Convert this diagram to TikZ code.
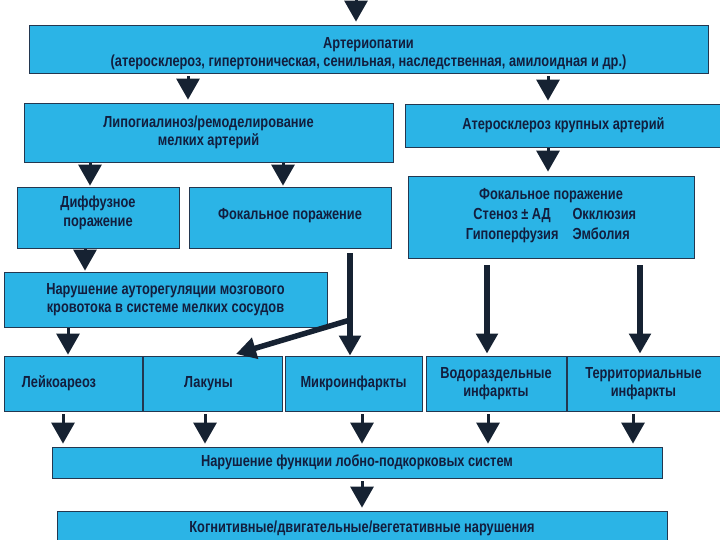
\documentclass[tikz,border=0pt]{standalone}
\usepackage{fontspec}
\setmainfont[FakeStretch=0.8]{Liberation Sans}
\usetikzlibrary{positioning,arrows.meta}
\definecolor{boxblue}{RGB}{43,180,230}
\definecolor{boxline}{RGB}{35,55,80}
\definecolor{ink}{RGB}{18,30,62}
\definecolor{arrowink}{RGB}{22,34,50}

\tikzset{
  blk/.style={draw=boxline, line width=0.8pt, fill=boxblue, text=ink, align=center,
    inner sep=2pt, font=\bfseries\fontsize{16}{18.5}\selectfont},
  tri/.style={draw=arrowink, line width=3pt, -{Triangle[length=21pt,width=23pt]},
    shorten <=3pt, shorten >=3pt},
  longarr/.style={draw=arrowink, line width=5.5pt, -{Triangle[length=20pt,width=21pt]}},
}

\begin{document}
\begin{tikzpicture}[x=1pt,y=-1pt]
  \useasboundingbox[fill=white] (0,0) rectangle (720,540);

  % top level
  \node[blk, minimum width=679pt, minimum height=48pt] (artp) at (368.5,49)
    {\rule{0pt}{20pt}Артериопатии\\(атеросклероз, гипертоническая, сенильная, наследственная, амилоидная и др.)};
  \node[blk, minimum width=369pt, minimum height=59pt] (lipo) at (208.5,132.5)
    {Липогиалиноз/ремоделирование\\мелких артерий};
  \node[blk, minimum width=317pt, minimum height=43pt] (ather) at (563.5,125.5)
    {Атеросклероз крупных артерий};
  \node[blk, minimum width=286pt, minimum height=82pt] (bigfoc) at (551,217)
    {Фокальное поражение\\[2pt]
     \begin{tabular}{@{}c@{\hspace{14pt}}l@{}}
       Стеноз ± АД & Окклюзия\\[2pt]
       Гипоперфузия & Эмболия
     \end{tabular}};

  % small vessels
  \node[blk, minimum width=162pt, minimum height=61pt] (diff) at (98,217.5)
    {Диффузное\\поражение\\[-6pt]\mbox{}};
  \node[blk, minimum width=202pt, minimum height=61pt] (foc) at (290,217.5)
    {Фокальное поражение\\[-12pt]\mbox{}};
  \node[blk, minimum width=323pt, minimum height=55pt] (autoreg) at (165.5,299.5)
    {Нарушение ауторегуляции мозгового\\кровотока в системе мелких сосудов};

  % lesions row
  \node[blk, minimum width=138pt, minimum height=55pt] (leuk) at (73,383.5)
    {Лейкоареоз\hspace*{28pt}};
  \node[blk, minimum width=139pt, minimum height=55pt] (lac) at (212.5,383.5)
    {Лакуны\hspace*{8pt}};
  \node[blk, minimum width=137pt, minimum height=55pt] (micro) at (353.5,383.5) {Микроинфаркты};
  \node[blk, minimum width=140pt, minimum height=55pt] (wshed) at (496,383.5)
    {Водораздельные\\инфаркты};
  \node[blk, minimum width=153pt, minimum height=55pt] (terr) at (643.5,383.5)
    {Территориальные\\инфаркты};

  % bottom
  \node[blk, minimum width=610pt, minimum height=31pt] (front) at (357,462.5)
    {Нарушение функции лобно-подкорковых систем};
  \node[blk, minimum width=610pt, minimum height=35pt] (cogn) at (362,528.5)
    {Когнитивные/двигательные/вегетативные нарушения};

  % arrows
  \coordinate (entry) at (356,-3);
  \draw[tri, shorten <=0pt] (entry) -- (356,0 |- artp.north);
  \draw[tri] (188,0 |- artp.south) -- (188,0 |- lipo.north);
  \draw[tri] (548,0 |- artp.south) -- (548,0 |- ather.north);
  \draw[tri, shorten <=1pt, shorten >=1pt] (90,0 |- lipo.south) -- (90,0 |- diff.north);
  \draw[tri, shorten <=1pt, shorten >=1pt] (283,0 |- lipo.south) -- (283,0 |- foc.north);
  \draw[tri, shorten <=1pt, shorten >=4pt] (548,0 |- ather.south) -- (548,0 |- bigfoc.north);
  \draw[tri, shorten <=1pt, shorten >=1pt] (85,0 |- diff.south) -- (85,0 |- autoreg.north);
  \draw[tri, shorten <=1pt, shorten >=1pt] (68,0 |- autoreg.south) -- (68,0 |- leuk.north);

  \coordinate (fork) at (350,320);
  \coordinate (lacin) at (236,354);
  \draw[longarr, shorten <=5pt] (350,0 |- foc.south) -- (350,0 |- micro.north);
  \draw[longarr] (fork) -- (lacin);
  \draw[longarr, shorten <=7pt, shorten >=2pt] (487,0 |- bigfoc.south) -- (487,0 |- wshed.north);
  \draw[longarr, shorten <=7pt, shorten >=2pt] (640,0 |- bigfoc.south) -- (640,0 |- terr.north);

  \draw[tri] (63,0 |- leuk.south) -- (63,0 |- front.north);
  \draw[tri] (205,0 |- lac.south) -- (205,0 |- front.north);
  \draw[tri] (362,0 |- micro.south) -- (362,0 |- front.north);
  \draw[tri] (488,0 |- wshed.south) -- (488,0 |- front.north);
  \draw[tri] (633,0 |- terr.south) -- (633,0 |- front.north);
  \draw[tri, shorten <=3pt, shorten >=3pt] (362,0 |- front.south) -- (362,0 |- cogn.north);
\end{tikzpicture}
\end{document}
